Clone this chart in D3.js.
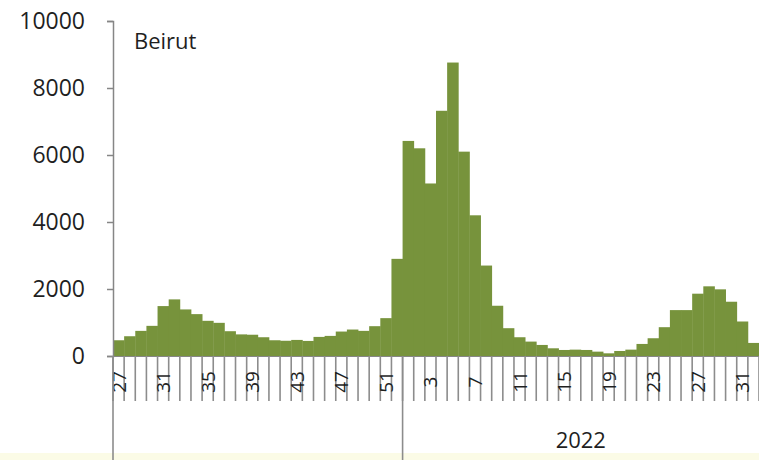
<!DOCTYPE html>
<html>
<head>
<meta charset="utf-8">
<script src="https://cdn.jsdelivr.net/npm/d3@7/dist/d3.min.js"></script>
<style>
  html, body { margin: 0; padding: 0; background: #ffffff; }
  svg { display: block; }
  text { font-family: "Open Sans", "Liberation Sans", sans-serif; fill: #1f1f1f; }
</style>
</head>
<body>
<svg id="chart" width="759" height="460"></svg>
<script>
// ---- data ----
const weeks2021 = [27,28,29,30,31,32,33,34,35,36,37,38,39,40,41,42,43,44,45,46,47,48,49,50,51,52];
const weeks2022 = [1,2,3,4,5,6,7,8,9,10,11,12,13,14,15,16,17,18,19,20,21,22,23,24,25,26,27,28,29,30,31,32];
const cases2021 = [470,590,750,900,1490,1690,1390,1250,1050,990,740,645,635,560,470,455,480,450,570,600,730,790,750,890,1130,2900];
const cases2022 = [6420,6200,5150,7320,8760,6100,4200,2700,1500,830,560,430,330,230,180,190,180,130,80,150,190,360,530,860,1370,1370,1860,2080,1990,1620,1030,390];
const yearLabels = ["", "2022"];
const yTicks = [0,2000,4000,6000,8000,10000];
const seriesName = "Beirut";

(function () {
// ---- build table ----
const rows = [];
weeks2021.forEach((w, i) => rows.push({ idx: rows.length, week: w, year: 0, value: cases2021[i] }));
weeks2022.forEach((w, i) => rows.push({ idx: rows.length, week: w, year: 1, value: cases2022[i] }));

const svg = d3.select("#chart");
const W = 759, H = 460;
const mLeft = 113, mRight = 759, mTop = 21, mBottom = 356;

svg.append("rect").attr("width", W).attr("height", H).attr("fill", "#ffffff");
svg.append("rect").attr("x", 0).attr("y", 453).attr("width", W).attr("height", 7).attr("fill", "#fbfbe6");

const x = d3.scaleBand().domain(rows.map(d => d.idx)).range([mLeft, mRight]).padding(0);
const y = d3.scaleLinear().domain([0, 10000]).range([mBottom, mTop]);

// bars
svg.append("g").selectAll("rect").data(rows).join("rect")
  .attr("x", d => x(d.idx))
  .attr("y", d => y(d.value))
  .attr("width", x.bandwidth() + 0.4)
  .attr("height", d => y(0) - y(d.value))
  .attr("fill", "#77933c");

// y axis
const yAxis = d3.axisLeft(y).tickValues(yTicks).tickSize(6).tickPadding(22).tickFormat(d3.format("d"));
const gy = svg.append("g").attr("transform", `translate(${mLeft},0)`).call(yAxis);
gy.select(".domain").attr("stroke", "#868686").attr("stroke-width", 1.5);
gy.selectAll(".tick line").attr("stroke", "#868686").attr("stroke-width", 1.5);
gy.selectAll(".tick text").style("font-size", "23px").style("font-family", "'Open Sans', sans-serif").attr("fill", "#1f1f1f");

// x axis baseline
svg.append("line").attr("x1", mLeft).attr("x2", mRight).attr("y1", mBottom + 0.5).attr("y2", mBottom + 0.5)
  .attr("stroke", "#868686").attr("stroke-width", 1.2);

// category tick lines (between every category)
const boundaries = rows.map(d => x(d.idx)).concat([x(rows[rows.length - 1].idx) + x.bandwidth()]);
svg.append("g").selectAll("line").data(boundaries).join("line")
  .attr("x1", d => d).attr("x2", d => d)
  .attr("y1", mBottom).attr("y2", 401)
  .attr("stroke", "#8c8c8c").attr("stroke-width", 1.6);

// week labels (every 4th), rotated
svg.append("g").selectAll("text").data(rows.filter(d => d.idx % 4 === 0)).join("text")
  .attr("transform", d => `translate(${x(d.idx) + x.bandwidth() / 2 + 7},382) rotate(-90)`)
  .attr("text-anchor", "middle")
  .style("font-size", "19px")
  .text(d => d.week);

// group divider lines and year labels
const groups = [0, 1].map(g => {
  const r = rows.filter(d => d.year === g);
  return { label: yearLabels[g], x0: x(r[0].idx), x1: x(r[r.length - 1].idx) + x.bandwidth() };
});
svg.append("g").selectAll("line").data(groups).join("line")
  .attr("x1", d => d.x0).attr("x2", d => d.x0)
  .attr("y1", mBottom).attr("y2", H)
  .attr("stroke", "#8c8c8c").attr("stroke-width", 1.6);
svg.append("g").selectAll("text").data(groups).join("text")
  .attr("x", d => (d.x0 + Math.min(d.x1, W)) / 2)
  .attr("y", 448)
  .attr("text-anchor", "middle")
  .style("font-size", "22px")
  .text(d => d.label);

// series label
svg.append("text").attr("x", 134).attr("y", 49).style("font-size", "22px").text(seriesName);
})();
</script>
</body>
</html>
